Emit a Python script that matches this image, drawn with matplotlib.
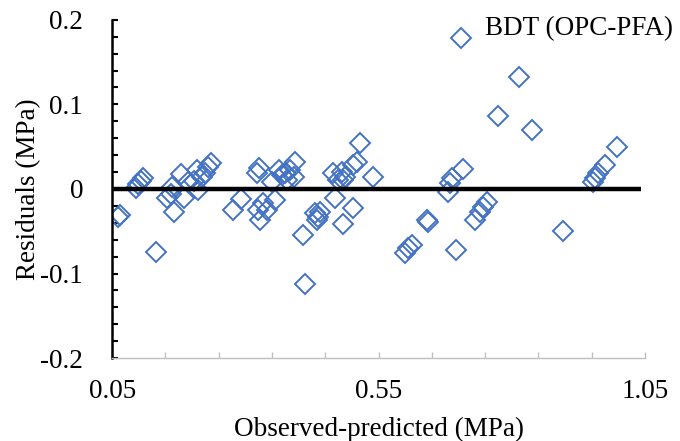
import matplotlib
matplotlib.use("Agg")
import matplotlib.pyplot as plt
from matplotlib.ticker import MultipleLocator, FixedLocator, FuncFormatter

plt.rcParams['font.family'] = ['Liberation Serif', 'DejaVu Serif']

# observed-predicted (MPa) vs residuals (MPa)
obs = [0.061, 0.065, 0.095, 0.099, 0.104, 0.108, 0.133, 0.153, 0.161, 0.166,
       0.163, 0.179, 0.185, 0.193, 0.204, 0.209, 0.219, 0.211, 0.224, 0.236,
       0.230, 0.277, 0.292, 0.322, 0.326, 0.324, 0.328, 0.333, 0.341, 0.350,
       0.356, 0.363, 0.369, 0.375, 0.378, 0.384, 0.393, 0.391, 0.408, 0.412,
       0.431, 0.436, 0.440, 0.435, 0.465, 0.468, 0.474, 0.481, 0.483, 0.487,
       0.502, 0.510, 0.515, 0.540, 0.502, 0.483, 0.600, 0.605, 0.613, 0.643,
       0.641, 0.705, 0.814, 0.774, 0.838, 0.709, 0.688, 0.684, 0.680, 0.754,
       0.746, 0.740, 0.731, 0.695, 0.997, 0.975, 0.962, 0.956, 0.952, 0.896]
resid = [-0.033, -0.031, 0.001, 0.006, 0.009, 0.013, -0.075, -0.011, -0.006, -0.027,
         0.002, 0.018, -0.011, 0.008, 0.009, 0.022, 0.014, -0.001, 0.019, 0.031,
         0.026, -0.025, -0.012, 0.019, 0.025, -0.025, -0.037, -0.017, -0.025, 0.008,
         -0.013, 0.022, 0.017, 0.019, 0.011, 0.022, 0.032, 0.014, -0.054, -0.112,
         -0.028, -0.033, -0.027, -0.037, 0.019, -0.011, 0.011, 0.020, 0.011, 0.014,
         0.028, 0.032, 0.054, 0.014, -0.023, -0.041, -0.076, -0.070, -0.066, -0.039,
         -0.037, 0.178, 0.133, 0.086, 0.070, 0.024, 0.013, 0.007, -0.004, -0.015,
         -0.021, -0.027, -0.037, -0.072, 0.050, 0.028, 0.019, 0.013, 0.008, -0.050]

x_labels = [0.05, 0.55, 1.05]

fig = plt.figure(figsize=(6.8, 4.41), dpi=100)
ax = fig.add_axes([0.165, 0.188, 0.7835, 0.767])

ax.plot(obs, resid, linestyle='none', marker='D', markersize=10,
        markerfacecolor='none', markeredgecolor='#4472C4', markeredgewidth=1.4, zorder=2)
ax.plot([0.05, 1.043], [0, 0], color='black', linewidth=3.2, zorder=3, solid_capstyle='butt')

ax.set_xlim(0.05, 1.05)
ax.set_ylim(-0.2, 0.2)

ax.xaxis.set_major_locator(FixedLocator(x_labels))
ax.xaxis.set_minor_locator(MultipleLocator(0.1, offset=0.05))
ax.xaxis.set_major_formatter(FuncFormatter(lambda v, p: '%.2f' % v))
ax.yaxis.set_major_locator(MultipleLocator(0.1))
ax.yaxis.set_minor_locator(MultipleLocator(0.02))
ax.yaxis.set_major_formatter(FuncFormatter(lambda v, p: '0' if abs(v) < 1e-9 else '%.1f' % v))

for s in ['top', 'right']:
    ax.spines[s].set_visible(False)
ax.spines['left'].set_color('black')
ax.spines['left'].set_linewidth(1.8)
ax.spines['bottom'].set_color('#BFBFBF')
ax.spines['bottom'].set_linewidth(1.0)

ax.tick_params(axis='y', which='both', direction='in', length=4, width=1.5, color='black',
               labelsize=19.5, pad=21)
ax.tick_params(axis='x', which='both', direction='in', length=4, width=1.0, color='#BFBFBF',
               labelsize=19.5, pad=15)

ax.set_xlabel('Observed-predicted (MPa)', fontsize=19.5, labelpad=9)
ax.set_ylabel('Residuals (MPa)', fontsize=19.5, labelpad=-1)

fig.text(0.99, 0.921, 'BDT (OPC-PFA)', ha='right', va='baseline', fontsize=19.5)

fig.savefig('out.png', dpi=100)
